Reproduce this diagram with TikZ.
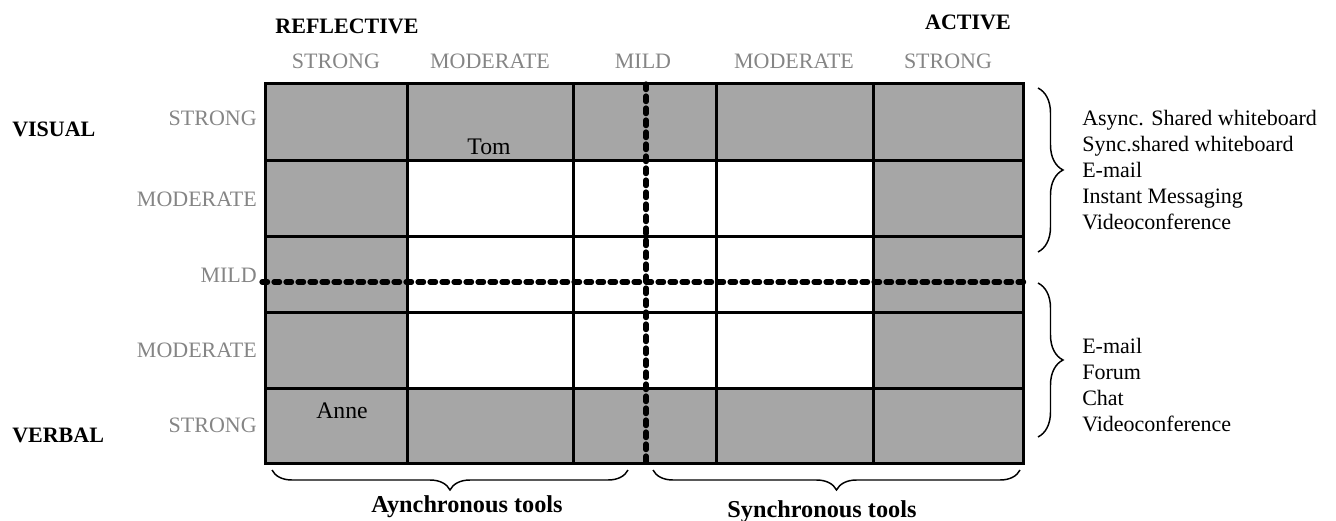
\documentclass[tikz,border=0pt]{standalone}
\usepackage{fontspec}
\setmainfont{Liberation Serif}
\usetikzlibrary{decorations.pathreplacing}
\definecolor{cellgray}{HTML}{A6A6A6}
\definecolor{lblgray}{HTML}{858585}
\tikzset{
  lbl/.style={inner sep=0pt, anchor=base, font=\fontsize{16.5}{19.8}\selectfont},
  grey/.style={lbl, text=lblgray},
  bold/.style={lbl, font=\fontsize{16.5}{19.8}\selectfont\bfseries},
  bigbold/.style={lbl, font=\fontsize{18.2}{21.8}\selectfont\bfseries},
  personlbl/.style={lbl, font=\fontsize{17.8}{21.4}\selectfont},
  gridline/.style={line width=2.25pt, line cap=rect},
  midline/.style={line width=3.9pt, line cap=round, dash pattern=on 4.2pt off 4.8pt},
  bracestyle/.style={line width=1.1pt, decorate, decoration={brace, amplitude=#1}},
}
\begin{document}
\begin{tikzpicture}[x=0.75pt,y=-0.75pt]
\useasboundingbox (0,0) rectangle (1336,521);
% cells
\fill[cellgray] (265,83) rectangle (1023,463);
\fill[white] (407,160) rectangle (873,388);
% grid
\foreach \x in {265,407,573,716,873,1023}
  \draw[gridline] (\x,83) -- (\x,463);
\foreach \y in {83,160,236,312,388,463}
  \draw[gridline] (265,\y) -- (1023,\y);
% dashed axes
\coordinate (hl) at (262,282);
\coordinate (hr) at (1027,282);
\coordinate (vt) at (646,84);
\coordinate (vb) at (646,467);
\draw[midline] (hl) -- (hr);
\draw[midline] (vt) -- (vb);
% top labels
\node[bold] (refl) at (347,33) {REFLECTIVE};
\node[bold] (act) at (968,29) {ACTIVE};
\node[grey] (t1) at (336,68) {STRONG};
\node[grey] (t2) at (490,68) {MODERATE};
\node[grey] (t3) at (643,68) {MILD};
\node[grey] (t4) at (794,68) {MODERATE};
\node[grey] (t5) at (948,68) {STRONG};
% left labels
\node[bold, anchor=base west] (vis) at (12,136) {VISUAL};
\node[bold, anchor=base west] (verb) at (12,442) {VERBAL};
\node[grey, anchor=base east] (l1) at (257,125) {STRONG};
\node[grey, anchor=base east] (l2) at (257,206) {MODERATE};
\node[grey, anchor=base east] (l3) at (257,282) {MILD};
\node[grey, anchor=base east] (l4) at (257,357) {MODERATE};
\node[grey, anchor=base east] (l5) at (257,432) {STRONG};
% names
\node[personlbl] (tom) at (489,154) {Tom};
\node[personlbl] (anne) at (342,418) {Anne};
% right braces and lists
\draw[bracestyle=18.75pt] (1038,88) -- (1038,252);
\draw[bracestyle=18.75pt] (1038,283) -- (1038,437);
\node[lbl, anchor=base west] (r1) at (1082,125) {Async. Shared whiteboard};
\node[lbl, anchor=base west] (r2) at (1082,151) {Sync.shared whiteboard};
\node[lbl, anchor=base west] (r3) at (1082,177) {E-mail};
\node[lbl, anchor=base west] (r4) at (1082,203) {Instant Messaging};
\node[lbl, anchor=base west] (r5) at (1082,229) {Videoconference};
\node[lbl, anchor=base west] (s1) at (1082,353) {E-mail};
\node[lbl, anchor=base west] (s2) at (1082,379) {Forum};
\node[lbl, anchor=base west] (s3) at (1082,405) {Chat};
\node[lbl, anchor=base west] (s4) at (1082,431) {Videoconference};
% bottom braces
\draw[bracestyle=15pt] (628,470) -- (272,470);
\draw[bracestyle=15pt] (1020,470) -- (653,470);
\node[bigbold] (async) at (467,512) {Aynchronous tools};
\node[bigbold] (sync) at (822,517) {Synchronous tools};
\end{tikzpicture}
\end{document}
